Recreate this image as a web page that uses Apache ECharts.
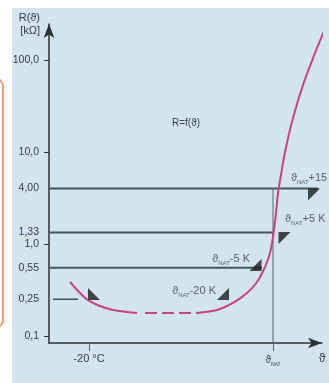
<!DOCTYPE html>
<html><head><meta charset="utf-8">
<script src="https://cdn.jsdelivr.net/npm/echarts@6/dist/echarts.min.js"></script>
<style>html,body{margin:0;padding:0;background:#fff}#c{width:329px;height:383px}</style>
</head><body><div id="c"></div>
<script>
// ---- data ----
const natTemp = 72;                       // ϑNAT position on the temperature axis
const xMin = -40, xMax = 96.5;
const yMin = 0.0835, yMax = 247;

const yTickValues = [0.1, 0.25, 0.55, 1, 1.33, 4, 10, 100];
const yTickLabels = ['0,1', '0,25', '0,55', '1,0', '1,33', '4,00', '10,0', '100,0'];
const yTickMarks = [0.1, 1, 10, 100];

const xTickValues = [-20, natTemp, xMax];
const xTickLabels = ['-20 °C', '{t|ϑ}{s|NAT}', '{b|ϑ}'];
const xTickMarks = [-20, natTemp];

// resistance curve (temperature, kΩ)
const curveAT = [-29.5, -24.5, -20.5, -14.5, -8, -1, 4];
const curveAR = [0.385, 0.292, 0.245, 0.211, 0.191, 0.182, 0.177];
const dashT = [8, 34];
const dashR = [0.177, 0.177];
const curveBT = [34, 44, 52, 59, 64, 68, 70.5, 72, 73.5, 74.5, 76, 78, 82, 87, 92, 96.5, 100];
const curveBR = [0.177, 0.191, 0.228, 0.292, 0.385, 0.561, 0.796, 1.19, 2.17, 3.58, 5.62, 10.0, 23.4, 53.6, 105, 183, 273];

// horizontal threshold levels
const levelR = [4.00, 1.33, 0.55, 0.25];
const levelStartT = [-40, -40, -40, -38];
const levelEndT = [94.5, natTemp, 66.5, -25.5];

// triangle markers
const markerT = [-17.5, 47, 63.25, 77.75, 92.5];
const markerR = [0.285, 0.285, 0.589, 1.159, 3.45];
const markerText = ['', '-20 K', '-5 K', '+5 K', '+15 K'];

// ---- styles ----
const FONT = 'Liberation Sans, Arial, sans-serif';
const TXT = '#3a3d40';
const AX = '#2c3135';
const LVL = '#46535c';
const CURVE = '#c8437f';
const zip = (a, b) => a.map((v, i) => [v, b[i]]);

const markerShapes = [
  'path://M0,0 L0,10 L10,10 Z',
  'path://M10,0 L10,10 L0,10 Z',
  'path://M10,0 L10,10 L0,10 Z',
  'path://M0,0 L10,0 L0,10 Z',
  'path://M0,0 L10,0 L0,10 Z'
];
const markerLabelPos = [null, [-1, 3, 'right'], [0.5, 0, 'right'], [6.5, -13, 'left'], [-17, -10.5, 'left']];

const rich = {
  a: {fontSize: 11, fontFamily: FONT, color: TXT, lineHeight: 14, verticalAlign: 'middle'},
  s: {fontSize: 6, fontFamily: FONT, color: TXT, lineHeight: 14, verticalAlign: 'bottom'}
};

const series = [];
levelR.forEach((r, i) => {
  series.push({
    type: 'line', data: [[levelStartT[i], r], [levelEndT[i], r]],
    showSymbol: false, silent: true,
    lineStyle: {color: LVL, width: i === 3 ? 1.5 : 2}
  });
});
series.push({
  type: 'line', data: [[natTemp, levelR[0]], [natTemp, yMin]],
  showSymbol: false, lineStyle: {color: '#59646c', width: 1}
});
series.push({
  type: 'line', data: zip(curveAT, curveAR), smooth: 0.3, showSymbol: false,
  lineStyle: {color: CURVE, width: 2}
});
series.push({
  type: 'line', data: zip(dashT, dashR), showSymbol: false,
  lineStyle: {color: CURVE, width: 2, type: [12, 5]}
});
series.push({
  type: 'line', data: zip(curveBT, curveBR), smooth: 0.3, showSymbol: false, clip: false,
  lineStyle: {color: CURVE, width: 2}
});
series.push({
  type: 'scatter', symbolSize: 12, itemStyle: {color: '#1c1c1c'}, z: 5,
  data: markerT.map((t, i) => {
    const p = markerLabelPos[i];
    return {
      value: [t, markerR[i]],
      symbol: markerShapes[i],
      label: p ? {
        show: true, position: [p[0], p[1]], align: p[2], verticalAlign: 'middle',
        formatter: '{a|ϑ}{s|NAT}{a|' + markerText[i] + '}', rich: rich
      } : {show: false}
    };
  })
});

const chart = echarts.init(document.getElementById('c'), null, {renderer: 'canvas'});
chart.setOption({
  animation: false,
  backgroundColor: '#ffffff',
  graphic: [
    {type: 'rect', z: -10, shape: {x: 12, y: 8, width: 317, height: 375}, style: {fill: '#d1e4ef'}},
    {type: 'rect', z: -9, shape: {x: -20, y: 79, width: 23, height: 248, r: 7}, style: {fill: 'none', stroke: '#f3a07a', lineWidth: 2}},
    {type: 'text', x: 40, y: 18, style: {text: 'R(ϑ)', font: '11px ' + FONT, fill: TXT, align: 'right', verticalAlign: 'middle'}},
    {type: 'text', x: 40, y: 31, style: {text: '[kΩ]', font: '11px ' + FONT, fill: TXT, align: 'right', verticalAlign: 'middle'}},
    {type: 'text', x: 186, y: 123, style: {text: 'R=f(ϑ)', font: '10px ' + FONT, fill: TXT, align: 'center', verticalAlign: 'middle'}}
  ],
  grid: {left: 49, right: 7, top: 24, bottom: 40, containLabel: false},
  xAxis: {
    type: 'value', min: xMin, max: xMax,
    axisLine: {show: true, onZero: false, symbol: ['none', 'arrow'], symbolSize: [8, 14], lineStyle: {color: AX, width: 1.5}},
    splitLine: {show: false},
    axisTick: {show: true, customValues: xTickMarks, length: 8, lineStyle: {color: '#59646c', width: 1}},
    axisLabel: {
      customValues: xTickValues, margin: 10,
      formatter: v => xTickLabels[xTickValues.indexOf(v)] ?? '',
      fontFamily: FONT, fontSize: 11, color: TXT,
      rich: {
        t: {fontSize: 10, fontFamily: FONT, color: TXT, lineHeight: 14, verticalAlign: 'middle'},
        s: {fontSize: 5, fontFamily: FONT, color: TXT, lineHeight: 14, verticalAlign: 'bottom'},
        b: {fontSize: 12, fontFamily: FONT, color: TXT}
      }
    }
  },
  yAxis: {
    type: 'log', min: yMin, max: yMax,
    axisLine: {show: true, onZero: false, symbol: ['none', 'arrow'], symbolSize: [8, 14], lineStyle: {color: AX, width: 1.5}},
    splitLine: {show: false},
    minorTick: {show: false},
    axisTick: {show: true, customValues: yTickMarks, length: 5, lineStyle: {color: AX, width: 1}},
    axisLabel: {
      customValues: yTickValues, margin: 10,
      formatter: v => {
        let best = 0;
        yTickValues.forEach((t, i) => { if (Math.abs(Math.log(t / v)) < Math.abs(Math.log(yTickValues[best] / v))) best = i; });
        return yTickLabels[best];
      },
      fontFamily: FONT, fontSize: 10.5, color: TXT
    }
  },
  series: series
});
</script>
</body></html>
